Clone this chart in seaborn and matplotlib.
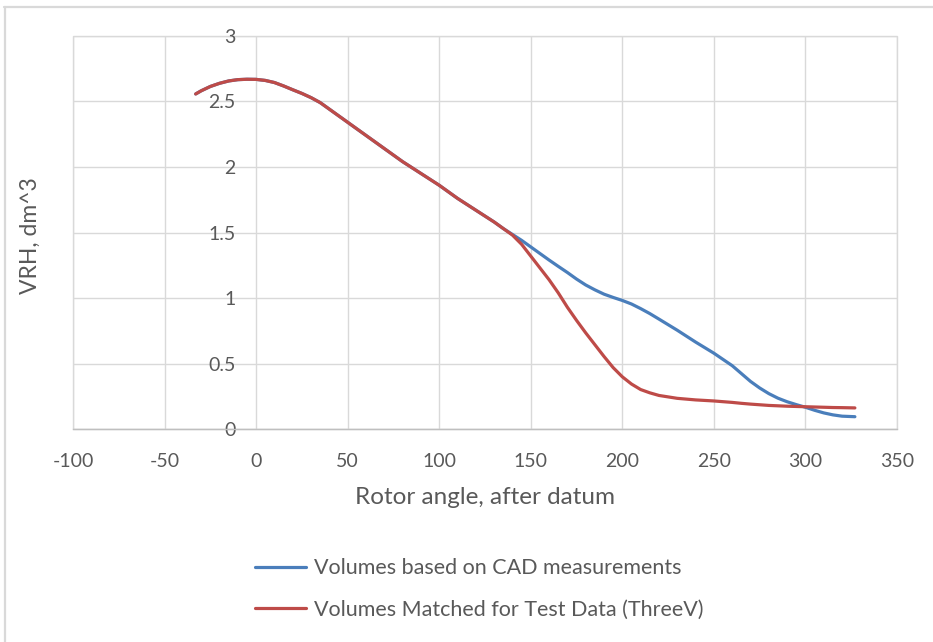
import matplotlib
matplotlib.use("Agg")
import matplotlib.pyplot as plt
from matplotlib.lines import Line2D
from matplotlib.patches import Rectangle
import pandas as pd
import seaborn as sns

# Rotor angle (degrees after datum) and swept volume (dm^3)
angle_common = [-33, -30, -25, -20, -15, -10, -5, 0, 5, 10, 15, 20, 25, 30,
                35, 40, 45, 50, 60, 70, 80, 90, 100, 110, 120, 130, 135]
vol_common = [2.556, 2.58, 2.613, 2.637, 2.655, 2.665, 2.668, 2.667, 2.659,
              2.643, 2.617, 2.588, 2.56, 2.528, 2.49, 2.44, 2.39, 2.34,
              2.24, 2.14, 2.04, 1.95, 1.86, 1.76, 1.67, 1.58, 1.53]

angle_tail = [140, 145, 150, 155, 160, 165, 170, 175, 180, 185, 190, 195,
              200, 205, 210, 215, 220, 230, 240, 250, 260, 265, 270, 275,
              280, 285, 290, 295, 300, 305, 310, 315, 320, 327]
vol_cad_tail = [1.485, 1.44, 1.39, 1.34, 1.29, 1.242, 1.195, 1.145, 1.10,
                1.063, 1.03, 1.005, 0.982, 0.955, 0.92, 0.882, 0.84, 0.755,
                0.665, 0.58, 0.485, 0.425, 0.365, 0.315, 0.272, 0.237, 0.21,
                0.188, 0.168, 0.145, 0.125, 0.11, 0.10, 0.096]
vol_test_tail = [1.48, 1.41, 1.32, 1.23, 1.14, 1.04, 0.93, 0.83, 0.735,
                 0.645, 0.555, 0.47, 0.40, 0.345, 0.303, 0.278, 0.258,
                 0.236, 0.224, 0.216, 0.205, 0.198, 0.192, 0.187, 0.182,
                 0.179, 0.176, 0.174, 0.172, 0.17, 0.168, 0.166, 0.165,
                 0.163]

series_names = ["Volumes based on CAD measurements",
                "Volumes Matched for Test Data (ThreeV)"]
series_colors = ["#4a7ebb", "#be4b48"]

x_ticks = [-100, -50, 0, 50, 100, 150, 200, 250, 300, 350]
y_ticks = [0, 0.5, 1, 1.5, 2, 2.5, 3]

angles = angle_common + angle_tail
df = pd.concat([
    pd.DataFrame({"angle": angles, "vol": vol_common + vol_cad_tail,
                  "series": series_names[0]}),
    pd.DataFrame({"angle": angles, "vol": vol_common + vol_test_tail,
                  "series": series_names[1]}),
])

sns.set_theme(style="white")
plt.rcParams["font.family"] = ["Lato", "DejaVu Sans"]

W, H = 933, 642
fig = plt.figure(figsize=(W / 100, H / 100), dpi=100)
fig.patch.set_facecolor("white")

left, right, top, bottom = 73, 897, 35.7, 429.3
ax = fig.add_axes([left / W, 1 - bottom / H, (right - left) / W, (bottom - top) / H])

for name, color in zip(series_names, series_colors):
    sns.lineplot(data=df[df["series"] == name], x="angle", y="vol",
                 ax=ax, color=color, linewidth=2.3, sort=False,
                 estimator=None, legend=False)
for ln in ax.get_lines():
    ln.set_solid_joinstyle("round")
    ln.set_solid_capstyle("round")

ax.set_xlim(-100, 350)
ax.set_ylim(0, 3)
ax.set_xticks(x_ticks)
ax.set_xticklabels([str(t) for t in x_ticks])
ax.set_yticks(y_ticks)
ax.set_yticklabels([f"{t:g}" for t in y_ticks])

grid_c = "#d9d9d9"
ax.grid(True, color=grid_c, linewidth=1.0)
ax.set_axisbelow(True)

# vertical axis crosses at angle 0, labels sit just left of it
ax.spines["left"].set_position(("data", 0))
ax.spines["left"].set_visible(False)
ax.spines["right"].set_visible(False)
ax.spines["top"].set_visible(False)
ax.spines["bottom"].set_color("#bfbfbf")
ax.spines["bottom"].set_linewidth(1.0)
ax.add_patch(Rectangle((0, 0), 1, 1, transform=ax.transAxes, fill=False,
                       edgecolor=grid_c, linewidth=1.0, clip_on=False, zorder=0))

ax.tick_params(axis="both", length=0, labelsize=14, labelcolor="#595959")
ax.tick_params(axis="y", pad=15)
ax.tick_params(axis="x", pad=17)

ax.set_xlabel("")
ax.set_ylabel("")
fig.text(485 / W, 1 - 497 / H, "Rotor angle, after datum", ha="center",
         va="center", fontsize=17.5, color="#595959")
fig.text(30 / W, 1 - 236 / H, "VRH, dm^3", ha="center", va="center",
         rotation=90, fontsize=16.5, color="#595959")

handles = [Line2D([], [], color=c, linewidth=2.3) for c in series_colors]
fig.legend(handles, series_names, loc="upper left",
           bbox_to_anchor=(236 / W, 1 - 539 / H), frameon=False,
           fontsize=15.5, labelcolor="#595959", handlelength=2.35,
           handletextpad=0.37, labelspacing=1.0)

# outer chart frame (top and left edges)
frame_c = "#d9d9d9"
fig.add_artist(Line2D([4 / W, 1], [1 - 6.5 / H, 1 - 6.5 / H], color=frame_c,
                      linewidth=1.6, transform=fig.transFigure))
fig.add_artist(Line2D([5 / W, 5 / W], [0, 1 - 6.5 / H], color=frame_c,
                      linewidth=1.6, transform=fig.transFigure))

fig.savefig("out.png", dpi=100, facecolor="white")
